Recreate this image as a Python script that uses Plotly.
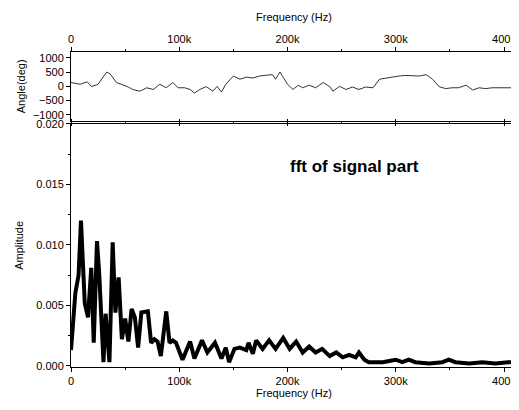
import plotly.graph_objects as go

# Amplitude spectrum (bottom panel)
amp_freq = [0, 4000, 7000, 9200, 12700, 15700, 18700, 21000, 24000, 26000, 30000, 32000, 35500,
            38500, 41000, 44000, 47000, 50000, 53000, 56000, 59000, 62000, 65000, 71000, 74000,
            77000, 80000, 83000, 88000, 91000, 94000, 97000, 103000, 110000, 114000, 121000,
            126000, 133000, 139000, 143000, 146000, 151000, 156000, 162000, 164000, 168000,
            171000, 177000, 183000, 189000, 196000, 202000, 208000, 214000, 220000, 226000,
            232000, 239000, 245000, 251000, 257000, 263000, 266000, 271000, 275000, 288000,
            294000, 300000, 306000, 312000, 318000, 331000, 343000, 349000, 355000, 368000,
            380000, 392000, 404000, 412000]
amp_vals = [0.0013, 0.0060, 0.0075, 0.0120, 0.0052, 0.0040, 0.0081, 0.0019, 0.0103, 0.0077,
            0.0003, 0.0043, 0.0003, 0.0102, 0.0044, 0.0073, 0.0022, 0.0039, 0.0020, 0.0047,
            0.0040, 0.0015, 0.0044, 0.0045, 0.0019, 0.0022, 0.0020, 0.0008, 0.0045, 0.0019,
            0.0021, 0.0019, 0.0005, 0.0020, 0.0006, 0.0021, 0.0011, 0.0019, 0.0006, 0.0015,
            0.0003, 0.0014, 0.0015, 0.0013, 0.0019, 0.0010, 0.0021, 0.0014, 0.0021, 0.0014,
            0.0023, 0.0014, 0.0020, 0.0011, 0.0016, 0.0011, 0.0014, 0.0008, 0.0011, 0.0007,
            0.0009, 0.0007, 0.0011, 0.0005, 0.0003, 0.0003, 0.0004, 0.0005, 0.0003, 0.0005,
            0.0003, 0.0002, 0.0003, 0.0005, 0.0003, 0.0002, 0.0003, 0.0002, 0.0003, 0.0003]

# Phase (top panel)
ang_freq = [0, 8300, 15000, 19000, 25000, 33000, 36000, 42000, 53000, 57000, 63600, 70000,
            76000, 82000, 88000, 94000, 99000, 105000, 110000, 114000, 119000, 125000, 131000,
            135000, 139000, 143000, 150000, 156000, 162000, 168000, 174000, 180000, 186000,
            189000, 193000, 196000, 200000, 205000, 210000, 214000, 220000, 226000, 233000,
            239000, 242000, 248000, 254000, 260000, 266000, 272000, 279000, 285000, 291000,
            297000, 303000, 309000, 316000, 322000, 328000, 334000, 340000, 346000, 352000,
            358000, 365000, 371000, 377000, 383000, 389000, 395000, 408000]
ang_vals = [135, 73, 157, -10, 73, 500, 440, 135, -24, -110, -170, -50, -110, 73, -50, 135,
            -50, -50, -110, -240, -110, -10, -170, 0, -200, 73, 360, 250, 320, 290, 360, 380,
            410, 250, 500, 320, 73, -110, 40, -50, 40, -50, 135, -10, -170, 0, -110, -24,
            -110, -24, -50, 250, 290, 320, 360, 380, 380, 360, 410, 250, -10, -80, -50, -50,
            40, -130, -50, -80, -50, -50, -50]

x_tickvals = [0, 100000, 200000, 300000, 400000]
x_ticktext = ["0", "100k", "200k", "300k", "400k"]
amp_ticks = [0.0, 0.005, 0.010, 0.015, 0.020]
ang_ticks = [-1000, -500, 0, 500, 1000]

fig = go.Figure()
fig.add_trace(go.Scatter(x=amp_freq, y=amp_vals, mode="lines",
                         line=dict(color="black", width=4), xaxis="x", yaxis="y",
                         showlegend=False))
fig.add_trace(go.Scatter(x=ang_freq, y=ang_vals, mode="lines",
                         line=dict(color="#333333", width=1), xaxis="x2", yaxis="y2",
                         showlegend=False))

font = dict(family="Liberation Sans, Arial, sans-serif", size=11, color="black")
common = dict(showgrid=False, zeroline=False, showline=True, linecolor="black", linewidth=1,
              mirror="ticks", ticks="outside", ticklen=4, tickcolor="black",
              tickfont=font, automargin=False)

xr = [0, 412000]
fig.update_layout(
    width=511, height=394,
    margin=dict(l=63, r=2, t=44, b=35),
    paper_bgcolor="white", plot_bgcolor="white",
    font=font,
    xaxis=dict(range=xr, anchor="y", tickvals=x_tickvals, ticktext=x_ticktext,
               title=dict(text="Frequency (Hz)", font=font, standoff=2),
               minor=dict(ticks="outside", ticklen=2, tickcolor="black", dtick=50000),
               **common),
    yaxis=dict(domain=[0, 0.772], range=[-0.0001, 0.020], tickvals=amp_ticks,
               tickformat=".3f", title=dict(text="Amplitude", font=font, standoff=10),
               minor=dict(ticks="outside", ticklen=2, tickcolor="black", dtick=0.0025),
               **common),
    xaxis2=dict(range=xr, anchor="y2", side="top", tickvals=x_tickvals, ticktext=x_ticktext,
                title=dict(text="Frequency (Hz)", font=font, standoff=8),
                minor=dict(ticks="outside", ticklen=2, tickcolor="black", dtick=50000),
                **common),
    yaxis2=dict(domain=[0.782, 1], range=[-1200, 1200], tickvals=ang_ticks,
                title=dict(text="Angle(deg)", font=font, standoff=5),
                **common),
    annotations=[dict(text="<b>fft of signal part</b>", x=262000, y=0.0165,
                      xref="x", yref="y", showarrow=False,
                      font=dict(family="Liberation Sans, Arial, sans-serif", size=17,
                                color="black"))],
)

fig.write_html("out.html")
